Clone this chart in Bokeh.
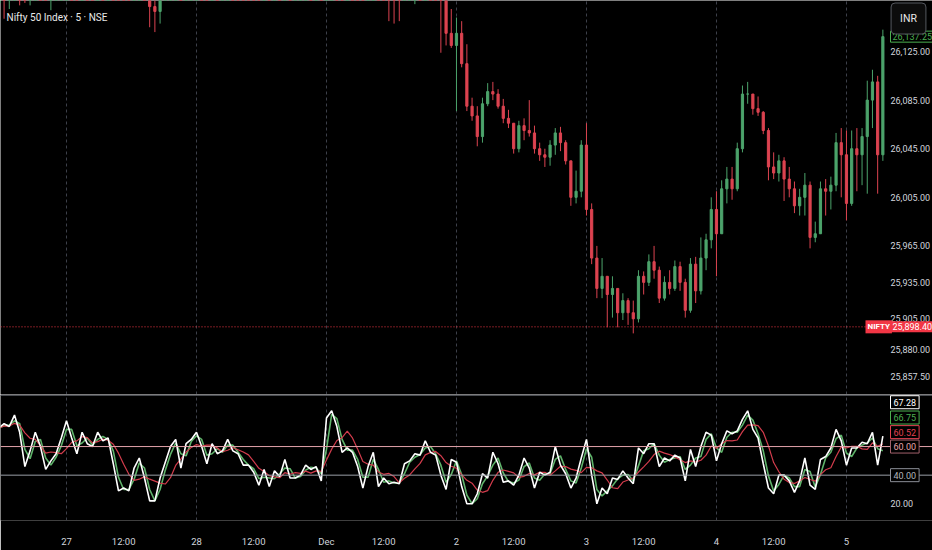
from bokeh.plotting import figure
from bokeh.layouts import column
from bokeh.models import ColumnDataSource, FixedTicker, Range1d, Span, Label
from bokeh.core.properties import value
from bokeh.embed import file_html
from bokeh.resources import INLINE

symbol_title = "Nifty 50 Index · 5 · NSE"

# 15-minute bars, Nov 26 12:15 .. Dec 5 11:00 (open of a bar = previous close)
first_open = 26165
closes = [
    26175, 26170, 26180, 26195, 26185, 26168, 26178, 26192, 26185, 26172, 26176, 26182, 26195,
    26245, 26235, 26225, 26250, 26242, 26240, 26258, 26250, 26256, 26232, 26200, 26198, 26190,
    26205, 26212, 26190, 26162, 26158, 26175, 26186, 26200, 26210, 26188, 26205, 26212,
    26225, 26215, 26198, 26214, 26206, 26210, 26222, 26212, 26208, 26196, 26195, 26188, 26175,
    26186, 26172, 26182, 26178, 26192, 26176, 26180, 26182, 26190, 26186, 26190, 26178,
    26290, 26315, 26300, 26270, 26278, 26270, 26250, 26222, 26238, 26250, 26210, 26200, 26185,
    26180, 26176, 26192, 26198, 26205, 26202, 26218, 26206, 26200, 26170, 26140, 26130,
    26140, 26115, 26080, 26072, 26055, 26082, 26092, 26090, 26080, 26070, 26066, 26045, 26064,
    26060, 26058, 26045, 26040, 26038, 26048, 26058, 26050, 26035, 26005, 26010, 26048,
    25995, 25955, 25930, 25940, 25925, 25930, 25910, 25920, 25910, 25905, 25940, 25935, 25952,
    25945, 25922, 25935, 25930, 25948, 25935, 25912, 25950, 25928, 25955, 25970, 25995,
    25975, 26012, 26020, 26012, 26045, 26090, 26090, 26078, 26075, 26060, 26030, 26025, 26035,
    26020, 26012, 25998, 26005, 26015, 25972, 25975, 26012, 26010, 26015, 26050, 26040,
    26000, 26045, 26040, 26055, 26085, 26100, 26040, 26137.25,
]
highs = [
    26185, 26182, 26188, 26200, 26198, 26188, 26182, 26196, 26195, 26188, 26182, 26186, 26200,
    26262, 26252, 26240, 26258, 26255, 26250, 26265, 26262, 26264, 26258, 26235, 26210, 26205,
    26210, 26220, 26214, 26192, 26172, 26180, 26192, 26205, 26216, 26212, 26210, 26218,
    26236, 26230, 26218, 26220, 26218, 26216, 26228, 26225, 26218, 26212, 26204, 26200, 26192,
    26190, 26188, 26186, 26188, 26196, 26194, 26185, 26188, 26194, 26193, 26195, 26192,
    26310, 26325, 26320, 26305, 26285, 26284, 26274, 26254, 26244, 26256, 26252, 26216, 26205,
    26192, 26188, 26198, 26204, 26212, 26210, 26224, 26220, 26210, 26204, 26175, 26160,
    26153, 26150, 26131, 26087, 26080, 26087, 26099, 26100, 26094, 26086, 26077, 26066, 26068,
    26070, 26085, 26064, 26050, 26045, 26052, 26062, 26063, 26052, 26035, 26027, 26052,
    26066, 26000, 25965, 25955, 25940, 25940, 25930, 25926, 25922, 25920, 25945, 25944, 25958,
    25965, 25948, 25940, 25945, 25953, 25952, 25938, 25955, 25956, 25972, 25975, 26005,
    26010, 26019, 26030, 26030, 26050, 26097, 26100, 26090, 26088, 26076, 26062, 26042, 26040,
    26038, 26030, 26018, 26012, 26025, 26018, 25985, 26018, 26020, 26022, 26058, 26062,
    26060, 26060, 26062, 26062, 26101, 26110, 26105, 26143,
]
lows = [
    26148, 26152, 26160, 26170, 26163, 26165, 26163, 26174, 26176, 26168, 26159, 26170, 26178,
    26190, 26225, 26218, 26222, 26236, 26232, 26238, 26244, 26246, 26228, 26195, 26188, 26182,
    26186, 26200, 26185, 26145, 26141, 26148, 26170, 26184, 26196, 26182, 26185, 26200,
    26205, 26208, 26192, 26195, 26200, 26200, 26205, 26208, 26200, 26192, 26188, 26182, 26170,
    26172, 26168, 26170, 26172, 26175, 26172, 26172, 26175, 26178, 26180, 26182, 26174,
    26175, 26285, 26290, 26262, 26262, 26262, 26245, 26215, 26218, 26232, 26202, 26190, 26150,
    26148, 26150, 26172, 26185, 26164, 26194, 26198, 26200, 26192, 26124, 26130, 26128,
    26076, 26112, 26076, 26068, 26047, 26050, 26080, 26085, 26078, 26066, 26062, 26041, 26042,
    26052, 26055, 26041, 26035, 26030, 26031, 26040, 26043, 26032, 25998, 26000, 26005,
    25990, 25950, 25922, 25922, 25898, 25906, 25898, 25904, 25900, 25893, 25902, 25925, 25932,
    25938, 25918, 25920, 25925, 25928, 25928, 25906, 25910, 25918, 25925, 25945, 25963,
    25940, 25975, 26000, 26003, 26010, 26042, 26082, 26073, 26072, 26057, 26019, 26020, 26018,
    26002, 26005, 25992, 25990, 25990, 25963, 25968, 25975, 25990, 25995, 26010, 26005,
    25986, 25998, 26010, 26015, 26008, 26062, 26008, 26035,
]
rsi = [
    73, 76, 74, 82, 70, 46, 57, 70, 60, 44, 50, 55, 66,
    78, 66, 55, 70, 62, 60, 70, 64, 66, 48, 29, 31, 29, 45, 52, 38, 22, 22, 38, 49, 60, 65, 45, 62, 65,
    70, 60, 48, 62, 55, 57, 65, 57, 55, 47, 47, 42, 33, 44, 32, 43, 39, 51, 38, 38, 40, 47, 44, 46, 36,
    80, 85, 74, 56, 59, 56, 46, 31, 46, 56, 32, 38, 34, 35, 34, 48, 50, 55, 54, 64, 56, 54, 40, 30, 51,
    49, 32, 20, 20, 27, 41, 38, 56, 48, 35, 36, 33, 40, 52, 45, 31, 42, 40, 42, 60, 47, 41, 31, 38, 52,
    65, 40, 20, 31, 27, 38, 37, 43, 38, 34, 59, 55, 62, 62, 46, 52, 50, 54, 52, 36, 58, 46, 60, 70, 68,
    50, 62, 71, 69, 71, 79, 85, 72, 66, 48, 31, 27, 40, 40, 36, 28, 36, 52, 33, 30, 51, 53, 59, 72, 64,
    47, 59, 59, 63, 62, 70, 47, 67.28,
]
day_labels = ["27", "28", "Dec", "2", "3", "4", "5"]
noon_label = "12:00"
price_ticks = [26125, 26085, 26045, 26005, 25965, 25935, 25905, 25880, 25857.5]
rsi_ticks = [20]
ref_price = 25898.40
rsi_band_hi, rsi_band_lo = 60, 40
rsi_values_shown = ["67.28", "66.75", "60.52"]

bars_before_first_day = 13
bars_per_day = 25
noon_offset = 11

n = len(closes)
xs = list(range(n))
opens = [first_open] + closes[:-1]
UP, DOWN = "#4ca36b", "#dc4350"
colors = [UP if c >= o else DOWN for o, c in zip(opens, closes)]
src = ColumnDataSource(dict(
    x=xs, high=highs, low=lows,
    top=[max(o, c) for o, c in zip(opens, closes)],
    bottom=[min(o, c) for o, c in zip(opens, closes)],
    color=colors,
))

day_starts = [bars_before_first_day + i * bars_per_day for i in range(len(day_labels))]
noons = [d + noon_offset for d in day_starts[:-1]]
overrides = {d: lab for d, lab in zip(day_starts, day_labels)}
overrides.update({m: noon_label for m in noons})

FONT = "Roboto"
TXT = "#d1d4dc"
FS = "9px"
W = 932            # whole canvas, price column included in the frame
PANE_W = 886       # width of the bar area
COL_X = 890        # left edge of price-column texts
x0, x_pane_end = 0.31, 170.7
x_end = x0 + (x_pane_end - x0) * W / PANE_W
shared_x = Range1d(x0, x_end)


def base_fig(h, y_range, bottom):
    f = figure(frame_width=W, frame_height=h, title=None,
               x_range=shared_x, y_range=y_range,
               output_backend="svg", toolbar_location=None,
               background_fill_color="#000000", border_fill_color="#000000",
               min_border_left=0, min_border_right=0, min_border_top=0,
               min_border_bottom=bottom, y_axis_location=None)
    f.extra_x_ranges = dict(px=Range1d(0, W))
    f.outline_line_color = None
    f.xgrid.ticker = FixedTicker(ticks=day_starts)
    f.xgrid.grid_line_color = "#3d404a"
    f.xgrid.grid_line_dash = "3 3"
    f.ygrid.visible = False
    return f


p = base_fig(394, Range1d(25842.7, 26167.0), 0)
p.xaxis.visible = False

p.segment(x0="x", y0="high", x1="x", y1="low", line_color="color", line_width=1, source=src)
p.vbar(x="x", width=0.42, top="top", bottom="bottom", fill_color="color", line_color="color", source=src)

p.text(x=[COL_X] * len(price_ticks), y=price_ticks,
       text=[f"{t:,.2f}" for t in price_ticks], x_range_name="px",
       text_font=value(FONT), text_font_size=FS, text_color=TXT, text_baseline="middle")

p.add_layout(Span(location=ref_price, dimension="width", line_color="#f23645",
                  line_dash="1 2", line_width=1))
p.add_layout(Label(x=6, y=377, x_units="screen", y_units="screen", text=symbol_title,
                   text_color="#e8e8e8", text_font=FONT, text_font_size="10px",
                   text_baseline="middle"))
p.add_layout(Label(x=COL_X, y=closes[-1], x_units="screen",
                   text=f"{closes[-1]:,.2f}", text_color="#4caf50", text_font=FONT,
                   text_font_size=FS, text_baseline="middle", padding=2,
                   border_line_color="#4caf50", background_fill_color="#000000"))
p.add_layout(Label(x=908, y=376, x_units="screen", y_units="screen", text="INR",
                   text_color="#e8e8e8", text_font=FONT, text_font_size="10.5px",
                   text_align="center", text_baseline="middle",
                   padding=9, border_radius=4,
                   border_line_color="#55585f", background_fill_color="#0c0c0c"))
p.add_layout(Label(x=865, y=ref_price, x_units="screen", text="NIFTY",
                   text_color="#ffffff", text_font=FONT, text_font_size="8px",
                   text_font_style="bold", text_baseline="middle", padding=2,
                   background_fill_color="#f23645"))
p.add_layout(Label(x=COL_X, y=ref_price, x_units="screen", text=f"{ref_price:,.2f}",
                   text_color="#ffffff", text_font=FONT, text_font_size=FS,
                   text_baseline="middle", padding=2, background_fill_color="#f23645"))

# RSI pane
ma_len = 5
rsi_ma = [sum(rsi[max(0, i - ma_len + 1):i + 1]) / len(rsi[max(0, i - ma_len + 1):i + 1]) for i in xs]
rsi_fast = [(rsi[max(0, i - 1)] + rsi[i]) / 2 for i in xs]

r = base_fig(126, Range1d(8.3, 96.4), 30)
r.xaxis.ticker = FixedTicker(ticks=sorted(overrides))
r.xaxis.major_label_overrides = overrides
r.xaxis.major_label_standoff = 9
r.xaxis.axis_line_color = None
r.xaxis.major_tick_line_color = None
r.xaxis.minor_tick_line_color = None
r.xaxis.major_label_text_color = TXT
r.xaxis.major_label_text_font = FONT
r.xaxis.major_label_text_font_size = "9.5px"

r.add_layout(Span(location=rsi_band_hi, dimension="width", line_color="#e3a3aa", line_width=1))
r.add_layout(Span(location=rsi_band_lo, dimension="width", line_color="#9a9ea6", line_width=1))
r.add_layout(Span(location=95.9, dimension="width", line_color="#6a6d75", line_width=1))
r.line(xs, rsi_fast, line_color="#5fb36a", line_width=1.6)
r.line(xs, rsi_ma, line_color="#d23c4c", line_width=1.2)
r.line(xs, rsi, line_color="#ffffff", line_width=1.6)

r.text(x=[COL_X] * len(rsi_ticks), y=rsi_ticks, text=[f"{t:.2f}" for t in rsi_ticks],
       x_range_name="px", text_font=value(FONT), text_font_size=FS,
       text_color=TXT, text_baseline="middle")

label_specs = [
    (rsi_values_shown[0], 91.0, "#ffffff", "#ffffff"),
    (rsi_values_shown[1], 80.3, "#4caf50", "#4caf50"),
    (rsi_values_shown[2], 70.1, "#e04050", "#e04050"),
    (f"{rsi_band_hi:.2f}", rsi_band_hi, "#e3a3aa", "#a0606a"),
    (f"{rsi_band_lo:.2f}", rsi_band_lo, "#b0b4ba", "#8a8e96"),
]
for txt, yv, tc, bc in label_specs:
    r.add_layout(Label(x=COL_X, y=yv, x_units="screen", text=txt, text_color=tc,
                       text_font=FONT, text_font_size=FS, text_baseline="middle",
                       padding=3, border_line_color=bc, background_fill_color="#000000"))

layout = column(p, r)
open("out.html", "w").write(file_html(layout, INLINE))
